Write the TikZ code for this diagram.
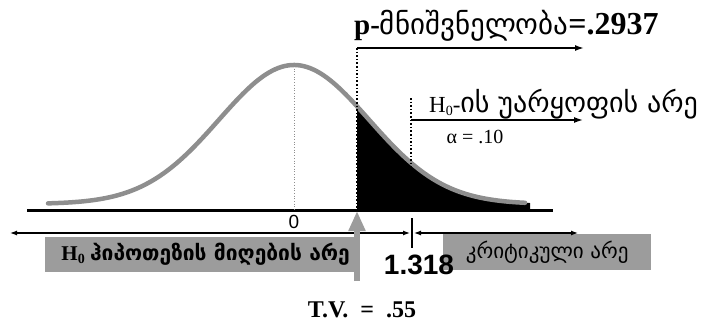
\documentclass[tikz,border=0pt]{standalone}
\usepackage{fontspec}
\setmainfont{Liberation Serif}
\newfontfamily\geo{DejaVu Sans}
\newfontfamily\arial{Liberation Sans}
\usetikzlibrary{arrows.meta}
\definecolor{curvegrey}{HTML}{8E8E8E}
\definecolor{boxgrey}{HTML}{9C9C9C}
\tikzset{
  bellcurve/.style={draw=curvegrey, line width=4.5pt, line cap=round},
  axisline/.style={line width=3pt},
  guide/.style={dotted, line width=1.6pt},
  pointer/.style={-{Latex[length=9pt,width=6pt]}, line width=1.6pt},
  rangearrow/.style={{Latex[length=7pt,width=5pt]}-{Latex[length=7pt,width=5pt]}, line width=1.2pt},
  regionbox/.style={fill=boxgrey, inner sep=0pt, anchor=north west},
  lbl/.style={inner sep=0pt},
}
\begin{document}
\begin{tikzpicture}[x=1pt,y=-1pt]
\useasboundingbox (0,0) rectangle (712,329);
% shaded tail
\fill[black] (357,209) -- plot[domain=357:530, samples=60] (\x, {204-139*exp(-0.5*((\x-294)/75)^2)}) -- (530,209) -- cycle;
% curve
\draw[bellcurve] plot[domain=48:525, samples=150] (\x, {204-139*exp(-0.5*((\x-294)/75)^2)});
% axis
\coordinate (axL) at (27,210);
\coordinate (axR) at (553,210);
\draw[axisline] (axL) -- (axR);
% centre guide
\coordinate (peak) at (294,66);
\coordinate (zero) at (294,210);
\draw[curvegrey, dotted, line width=0.7pt] (peak) -- (zero);
% guides
\coordinate (tvTop) at (357,48);
\coordinate (tvBot) at (357,210);
\coordinate (cvTop) at (411,98);
\coordinate (cvBot) at (411,210);
\draw[guide] (tvTop) -- (tvBot);
\draw[guide] (cvTop) -- (cvBot);
\coordinate (pEnd) at (584,48);
\draw[pointer] (tvTop) -- (pEnd);
\coordinate (hStart) at (411,120);
\coordinate (hEnd) at (583,120);
\draw[pointer, line width=1.4pt] (hStart) -- (hEnd);
% texts top
\node[lbl, anchor=west, font=\fontsize{29}{30}\selectfont] (ptext) at (354,26)
  {\bfseries p-{\geo\mdseries\fontsize{29}{30}\selectfont მნიშვნელობა}{\fontsize{32}{32}\selectfont=.2937}};
\node[lbl, anchor=west, font=\fontsize{23}{24}\selectfont] (htext) at (429,104)
  {H{\fontsize{14}{14}\selectfont\raisebox{-3pt}{0}}-{\geo\fontsize{28}{28}\selectfont ის უარყოფის არე}};
\node[lbl, font=\fontsize{20}{22}\selectfont] (alpha) at (475,137) {α = .10};
% boxes
\node[regionbox, minimum width=309pt, minimum height=35pt] (accbox) at (45,237) {};
\node[regionbox, minimum width=208pt, minimum height=36pt] (critbox) at (443,234) {};
\node[lbl, font=\fontsize{21}{22}\selectfont\bfseries] (acctext) at ([xshift=6pt]accbox.center)
  {H{\fontsize{14}{14}\selectfont\raisebox{-3pt}{0}} {\geo\fontsize{21}{22}\selectfont ჰიპოთეზის მიღების არე}};
\node[lbl, font=\geo\fontsize{21}{22}\selectfont] (crittext) at (critbox.center) {კრიტიკული არე};
% lower range arrows
\coordinate (lA) at (10,233);
\coordinate (lB) at (410,233);
\coordinate (rA) at (414,233);
\coordinate (rB) at (578,233);
\draw[rangearrow] (rA) -- (rB);
\coordinate (tickT) at (412,218);
\coordinate (tickB) at (412,248);
\draw[line width=1.2pt] (tickT) -- (tickB);
\node[lbl, font=\arial\fontsize{19}{20}\selectfont] (zlabel) at (294,222) {0};
\draw[rangearrow] (lA) -- (lB);
% grey test value arrow
\coordinate (gaStart) at (357,281);
\coordinate (gaTip) at (357,211);
\draw[boxgrey, line width=6pt, -{Triangle[length=20pt,width=16pt]}] (gaStart) -- (gaTip);
\node[lbl, font=\arial\bfseries\fontsize{28}{30}\selectfont] (cv) at (419,265) {1.318};
\node[lbl, font=\bfseries\fontsize{24}{26}\selectfont] (tv) at (362,310) {T.V.\ \ = \ .55};
\end{tikzpicture}
\end{document}
